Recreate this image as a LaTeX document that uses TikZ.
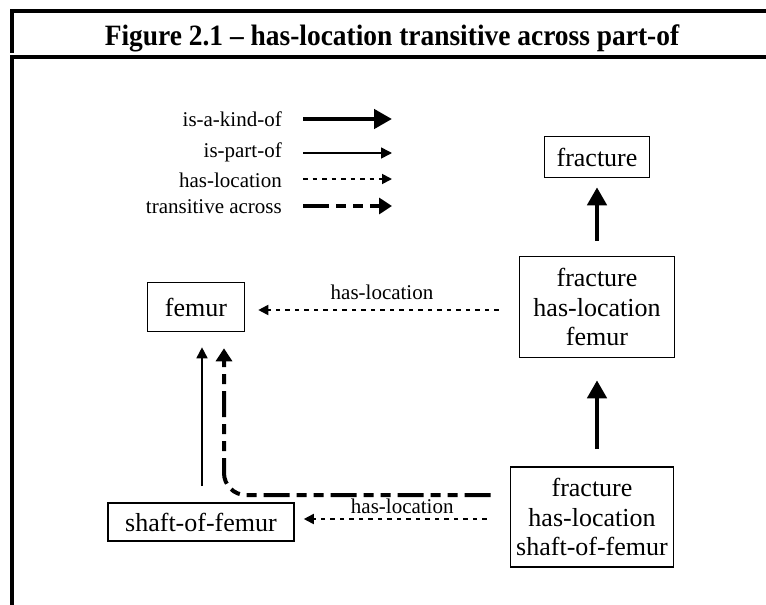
\documentclass[tikz,border=0pt]{standalone}
\usepackage{fontspec}
\setmainfont{Liberation Serif}
\usetikzlibrary{arrows.meta}

\tikzset{
  box/.style={draw, line width=1.6pt, align=center, inner sep=0pt,
    font=\fontsize{26}{29.5}\selectfont},
  lbl/.style={font=\fontsize{21}{24}\selectfont},
  frame/.style={line width=4pt},
  kindof/.style={line width=4.5pt, -{Triangle[length=18pt,width=19pt]}},
  partof/.style={line width=1.6pt, -{Triangle[length=11pt,width=11pt]}},
  hasloc/.style={line width=1.8pt, dash pattern=on 4.5pt off 5pt,
    -{Triangle[length=10pt,width=10pt]}},
  transacr/.style={line width=4pt,
    dash pattern=on 26pt off 7pt on 10pt off 7pt on 10pt off 7pt,
    -{Triangle[length=13pt,width=16pt]}},
}

\begin{document}
\begin{tikzpicture}[x=1pt, y=-1pt]
  \useasboundingbox (0,0) rectangle (766,605);

  % ============ FRAME AND TITLE ============
  \draw[frame] (10,11) -- (766,11);
  \draw[frame] (12,9) -- (12,53);
  \draw[frame] (10,57) -- (766,57);
  \draw[frame] (12,55) -- (12,605);
  \node[anchor=base, inner sep=0pt,
    font=\fontsize{29.5}{32}\selectfont\bfseries\addfontfeature{FakeStretch=0.93}]
    (title) at (392,45)
    {Figure 2.1 \textendash{} has-location transitive across part-of};

  % ============ LEGEND ============
  % Labels right-aligned, arrows to the right of them
  \node[lbl, anchor=east, inner sep=0pt] (lgkind) at (282,119) {is-a-kind-of};
  \node[lbl, anchor=east, inner sep=0pt] (lgpart) at (282,152) {is-part-of};
  \node[lbl, anchor=east, inner sep=0pt] (lgloc)  at (282,180) {has-location};
  \node[lbl, anchor=east, inner sep=0pt] (lgtrans) at (282,207) {transitive across};
  \coordinate (lgkindE)  at (392,119);
  \coordinate (lgpartE)  at (392,153);
  \coordinate (lglocE)   at (392,179);
  \coordinate (lgtransE) at (392,206);
  \draw[kindof]   ([xshift=21pt]lgkind.east |- lgkindE) -- (lgkindE);
  \draw[partof]   ([xshift=21pt]lgpart.east |- lgpartE) -- (lgpartE);
  \draw[hasloc]   ([xshift=21pt]lgloc.east |- lglocE) -- (lglocE);
  \draw[transacr] ([xshift=21pt]lgtrans.east |- lgtransE) -- (lgtransE);

  % ============ BOXES ============
  \node[box, minimum width=105pt, minimum height=41pt] (fract) at (597,157) {fracture};
  \node[box, minimum width=155pt, minimum height=101pt] (fhf) at (597,307)
    {fracture\\has-location\\femur};
  \node[box, minimum width=163pt, minimum height=100pt] (fhs) at (592,517)
    {fracture\\has-location\\shaft-of-femur};
  \node[box, minimum width=97pt, minimum height=49pt] (femur) at (196,307) {femur};
  \node[box, minimum width=186pt, minimum height=38pt] (shaft) at (201,522) {shaft-of-femur};

  % ============ CONNECTORS ============
  \draw[kindof, shorten <=15pt, shorten >=9pt] (fhf.north) -- (fract.south);
  \draw[kindof, shorten <=17pt, shorten >=22pt] (fhs.north -| fhf.north) -- (fhf.south);
  \draw[hasloc, shorten <=20pt, shorten >=13pt]
    ([yshift=-3pt]fhf.west) -- ([yshift=-3pt]femur.east)
    node[lbl, midway, above=6pt] {has-location};
  \draw[hasloc, shorten <=23pt, shorten >=9pt]
    ([yshift=-2pt]fhs.west) -- ([yshift=3pt]shaft.east)
    node[lbl, midway, above=1pt] {has-location};
  \draw[partof, shorten <=16pt, shorten >=15pt]
    ([xshift=1pt]shaft.north) -- ([xshift=6pt]femur.south);
  \draw[transacr, rounded corners=22pt, shorten <=19pt, shorten >=16pt]
    ([yshift=22pt]fhs.west) -| ([xshift=28pt]femur.south);
\end{tikzpicture}
\end{document}
